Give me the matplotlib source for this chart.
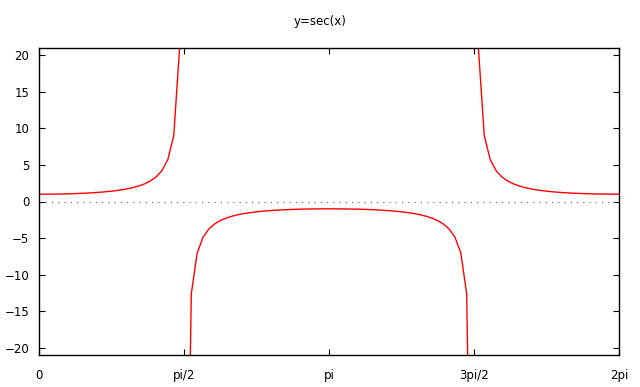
import numpy as np
import matplotlib.pyplot as plt

# sec(x), 100 samples across [0, 2pi]
sec_y = [
    1.000, 1.002, 1.008, 1.018, 1.033, 1.053, 1.077, 1.108, 1.144, 1.189,
    1.242, 1.305, 1.382, 1.474, 1.586, 1.724, 1.897, 2.118, 2.407, 2.802,
    3.368, 4.242, 5.759, 9.023, 21.02, -63.02, -12.62, -7.027, -4.883, -3.753,
    -3.058, -2.588, -2.252, -2.000, -1.805, -1.651, -1.527, -1.426, -1.342, -1.272,
    -1.214, -1.166, -1.125, -1.092, -1.064, -1.042, -1.025, -1.013, -1.005, -1.000,
    -1.000, -1.005, -1.013, -1.025, -1.042, -1.064, -1.092, -1.125, -1.166, -1.214,
    -1.272, -1.342, -1.426, -1.527, -1.651, -1.805, -2.000, -2.252, -2.588, -3.058,
    -3.753, -4.883, -7.027, -12.62, -63.02, 21.02, 9.023, 5.759, 4.242, 3.368,
    2.802, 2.407, 2.118, 1.897, 1.724, 1.586, 1.474, 1.382, 1.305, 1.242,
    1.189, 1.144, 1.108, 1.077, 1.053, 1.033, 1.018, 1.008, 1.002, 1.000,
]
x_ticks = [0, np.pi / 2, np.pi, 3 * np.pi / 2, 2 * np.pi]
x_labels = ['0', 'pi/2', 'pi', '3pi/2', '2pi']
y_ticks = [-20, -15, -10, -5, 0, 5, 10, 15, 20]
y_lim = 21

x = np.linspace(0, 2 * np.pi, len(sec_y))
y = np.array(sec_y)

# like gnuplot: don't join two points that are both outside the y range
out = np.abs(y) > y_lim
breaks = np.where(out[:-1] & out[1:])[0] + 1
x = np.insert(x, breaks, np.nan)
y = np.insert(y, breaks, np.nan)

fig = plt.figure(figsize=(6.4, 3.87), dpi=100)
ax = fig.add_axes([39 / 640, 32 / 387, 580 / 640, 307 / 387])

ax.axhline(0, color='#707070', lw=0.9, ls=(0, (1, 4)))
ax.plot(x, y, color='red', lw=1.0)

ax.set_xlim(0, 2 * np.pi)
ax.set_ylim(-y_lim, y_lim)
ax.set_xticks(x_ticks)
ax.set_xticklabels(x_labels)
ax.set_yticks(y_ticks)
ax.tick_params(direction='in', length=4.5, width=0.8, top=True, right=True,
               labelsize=8.5, pad=7)
ax.tick_params(axis='x', pad=10)
for s in ax.spines.values():
    s.set_linewidth(1.0)

fig.text(0.5, 1 - 22 / 387, 'y=sec(x)', ha='center', va='center', fontsize=8.5)

fig.savefig('out.png', dpi=100)
